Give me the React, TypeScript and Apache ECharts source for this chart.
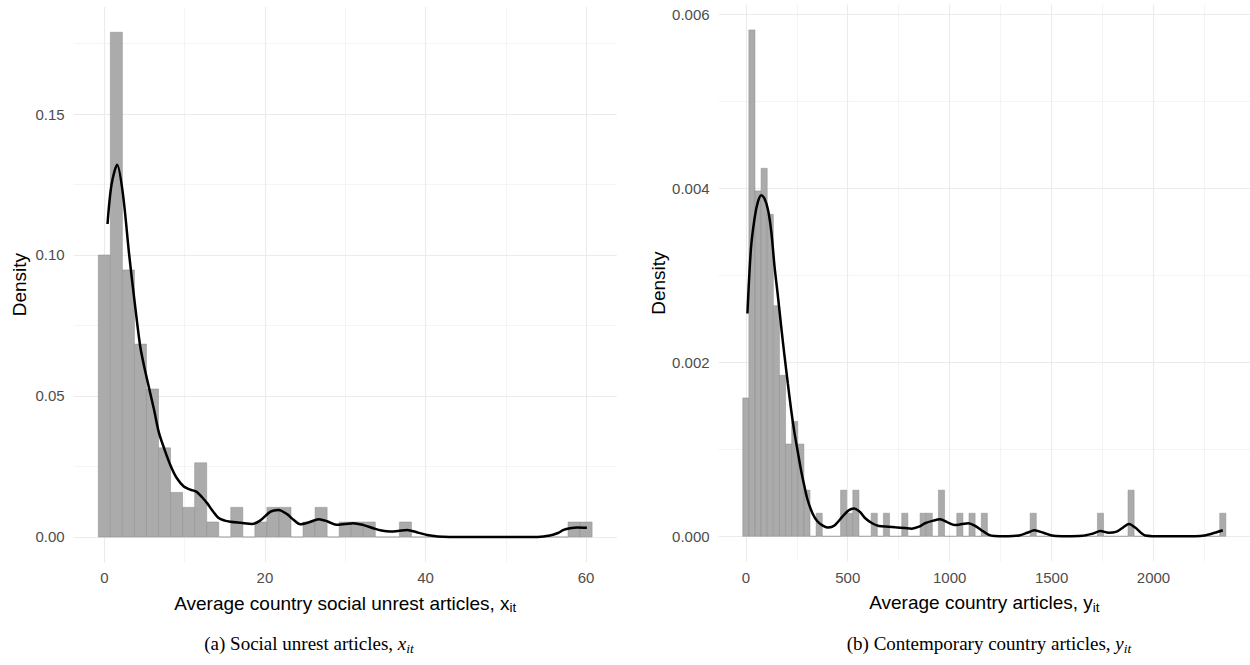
import React, { useEffect, useRef } from "react";
import * as echarts from "echarts";

// ---------- Left panel: social unrest articles (x_it) ----------
const leftBinWidth = 1.5;
const leftBinMid = [
  0, 1.5, 3, 4.5, 6, 7.5, 9, 10.5, 12, 13.5, 15, 16.5, 18, 19.5, 21, 22.5, 24, 25.5, 27, 28.5,
  30, 31.5, 33, 34.5, 36, 37.5, 39, 40.5, 42, 43.5, 45, 46.5, 48, 49.5, 51, 52.5, 54, 55.5, 57,
  58.5, 60,
];
const leftBinDensity = [
  0.1, 0.179, 0.0947, 0.0684, 0.0525, 0.0316, 0.0158, 0.0105, 0.0263, 0.0053, 0, 0.0105, 0,
  0.0053, 0.0105, 0.0105, 0, 0.0053, 0.0105, 0, 0.0053, 0.0053, 0.0053, 0, 0, 0.0053, 0, 0, 0,
  0, 0, 0, 0, 0, 0, 0, 0, 0, 0, 0.0053, 0.0053,
];
const leftCurveX = [
  0.4, 0.9, 1.6, 2.3, 3.1, 3.75, 4.45, 5.0, 5.6, 6.2, 6.8, 7.5, 8.3, 9.0, 9.9, 10.7, 11.5, 12.2,
  12.8, 13.5, 14.2, 15.0, 15.7, 17.0, 18.4, 19.4, 20.7, 21.7, 22.8, 23.6, 24.4, 25.5, 26.7, 27.8,
  28.9, 30.0, 31.0, 32.3, 33.5, 34.5, 35.6, 36.6, 37.7, 39.0, 40.2, 41.5, 43.0, 46.0, 50.0, 54.0,
  55.5, 56.5, 57.2, 58.0, 58.9, 60.1,
];
const leftCurveY = [
  0.111, 0.125, 0.132, 0.122, 0.1, 0.084, 0.068, 0.06, 0.0525, 0.045, 0.037, 0.031, 0.025, 0.021,
  0.0179, 0.0168, 0.016, 0.014, 0.012, 0.0092, 0.0068, 0.0058, 0.0054, 0.005, 0.0046, 0.0058,
  0.009, 0.0096, 0.008, 0.006, 0.0045, 0.0052, 0.0063, 0.0055, 0.0043, 0.0046, 0.0049, 0.0042,
  0.0031, 0.0023, 0.0019, 0.0021, 0.0025, 0.0016, 0.0007, 0.0002, 0.00003, 0, 0, 0, 0.0005,
  0.0014, 0.0025, 0.0031, 0.0034, 0.0033,
];
const leftXTicks = [0, 20, 40, 60];
const leftXMinor = [10, 30, 50];
const leftYTicks = [0, 0.05, 0.1, 0.15];
const leftYMinor = [0.025, 0.075, 0.125, 0.175];

// ---------- Right panel: contemporary country articles (y_it) ----------
const rightBinWidth = 30;
const rightBinMid = [
  0, 30, 60, 90, 120, 150, 180, 210, 240, 270, 300, 330, 360, 390, 420, 450, 480, 510, 540, 570,
  600, 630, 660, 690, 720, 750, 780, 810, 840, 870, 900, 930, 960, 990, 1020, 1050, 1080, 1110,
  1140, 1170, 1200, 1230, 1260, 1290, 1320, 1350, 1380, 1410, 1440, 1470, 1500, 1530, 1560,
  1590, 1620, 1650, 1680, 1710, 1740, 1770, 1800, 1830, 1860, 1890, 1920, 1950, 1980, 2010,
  2040, 2070, 2100, 2130, 2160, 2190, 2220, 2250, 2280, 2310, 2340,
];
const rightBinDensity = [
  0.00159, 0.00582, 0.00397, 0.00423, 0.0037, 0.00265, 0.00185, 0.00106, 0.00132, 0.00106,
  0.00053, 0, 0.000265, 0, 0, 0, 0.00053, 0.000265, 0.00053, 0, 0, 0.000265, 0, 0.000265, 0, 0,
  0.000265, 0, 0, 0.000265, 0.000265, 0, 0.00053, 0, 0, 0.000265, 0, 0.000265, 0, 0.000265, 0,
  0, 0, 0, 0, 0, 0, 0.000265, 0, 0, 0, 0, 0, 0, 0, 0, 0, 0, 0.000265, 0, 0, 0, 0, 0.00053, 0, 0,
  0, 0, 0, 0, 0, 0, 0, 0, 0, 0, 0, 0, 0.000265,
];
const rightCurveX = [
  8, 25, 44, 60, 76, 92, 109, 125, 141, 158, 174, 190, 206, 222, 238, 255, 271, 287, 303, 328,
  352, 380, 405, 433, 474, 505, 531, 560, 586, 620, 653, 700, 733, 780, 814, 850, 879, 920, 953,
  990, 1025, 1060, 1091, 1125, 1156, 1190, 1220, 1285, 1340, 1380, 1416, 1460, 1510, 1571,
  1650, 1700, 1740, 1780, 1815, 1850, 1880, 1910, 1959, 2050, 2150, 2250, 2300, 2340,
];
const rightCurveY = [
  0.00256, 0.0033, 0.00367, 0.00385, 0.00392, 0.00388, 0.00375, 0.0035, 0.0031, 0.00275, 0.0024,
  0.00207, 0.00176, 0.00146, 0.0012, 0.00097, 0.00076, 0.00058, 0.00042, 0.00026, 0.00017,
  0.00012, 0.0001, 0.00012, 0.000226, 0.0003, 0.00032, 0.00028, 0.000207, 0.00015, 0.000118,
  0.00011, 0.000103, 0.000095, 0.000088, 0.00011, 0.00015, 0.00018, 0.000195, 0.00016, 0.00013,
  0.00014, 0.00015, 0.00012, 0.00007, 0.00002, 0.000003, 0, 0.00001, 0.00004, 0.00007, 0.00004,
  0.000005, 0, 0.000005, 0.00003, 0.00006, 0.00004, 0.00005, 0.0001, 0.00014, 0.0001, 0.00001,
  0, 0, 0.00001, 0.00004, 0.00007,
];
const rightXTicks = [0, 500, 1000, 1500, 2000];
const rightXMinor = [250, 750, 1250, 1750, 2250];
const rightYTicks = [0, 0.002, 0.004, 0.006];
const rightYMinor = [0.001, 0.003, 0.005];

const SANS = "'Liberation Sans', Arial, Helvetica, sans-serif";
const SERIF = "'Liberation Serif', 'Times New Roman', serif";
const TICK = "#4D4D4D";
const GRID = "#EBEBEB";
const TITLE_SIZE = 19;

function histSeries(xi: number, mids: number[], dens: number[], w: number) {
  return {
    type: "custom",
    xAxisIndex: xi,
    yAxisIndex: xi,
    z: 3,
    silent: true,
    data: mids.map((m, i) => [m, dens[i]]),
    encode: { x: 0, y: 1 },
    renderItem: (params: any, api: any) => {
      const mid = api.value(0);
      const d = api.value(1);
      const p0 = api.coord([mid - w / 2, 0]);
      const p1 = api.coord([mid + w / 2, d]);
      return {
        type: "rect",
        shape: { x: p0[0], y: p1[1], width: p1[0] - p0[0], height: Math.max(p0[1] - p1[1], 0.01) },
        style: { fill: "#ABABAB", stroke: "#8C8C8C", lineWidth: 0.5 },
      };
    },
  };
}

function xAxes(grid: number, min: number, max: number, major: number[], minor: number[], name: string) {
  return [
    {
      type: "value",
      gridIndex: grid,
      min,
      max,
      axisLine: { show: false },
      axisTick: { show: false, customValues: major },
      axisLabel: {
        customValues: major,
        color: TICK,
        fontSize: 15,
        fontFamily: SANS,
        margin: 8,
        formatter: (v: number) => String(v),
      },
      splitLine: { show: true, lineStyle: { color: GRID, width: 1.1 } },
      name,
      nameLocation: "middle",
      nameGap: 30,
      nameTextStyle: {
        rich: {
          n: { fontSize: TITLE_SIZE, fontFamily: SANS, color: "#000", lineHeight: 22 },
          s: { fontSize: 13.3, fontFamily: SANS, color: "#000", lineHeight: 11, verticalAlign: "bottom" },
        },
      },
    },
    {
      type: "value",
      gridIndex: grid,
      min,
      max,
      axisLine: { show: false },
      axisTick: { show: false, customValues: minor },
      axisLabel: { show: false },
      splitLine: { show: true, lineStyle: { color: GRID, width: 0.55 } },
    },
  ];
}

function yAxes(
  grid: number,
  min: number,
  max: number,
  major: number[],
  minor: number[],
  digits: number,
  gap: number
) {
  return [
    {
      type: "value",
      gridIndex: grid,
      min,
      max,
      axisLine: { show: false },
      axisTick: { show: false, customValues: major },
      axisLabel: {
        customValues: major,
        color: TICK,
        fontSize: 15,
        fontFamily: SANS,
        margin: 9,
        formatter: (v: number) => v.toFixed(digits),
      },
      splitLine: { show: true, lineStyle: { color: GRID, width: 1.1 } },
      name: "Density",
      nameLocation: "middle",
      nameGap: gap,
      nameTextStyle: { fontSize: TITLE_SIZE, fontFamily: SANS, color: "#000" },
    },
    {
      type: "value",
      gridIndex: grid,
      min,
      max,
      axisLine: { show: false },
      axisTick: { show: false, customValues: minor },
      axisLabel: { show: false },
      splitLine: { show: true, lineStyle: { color: GRID, width: 0.55 } },
    },
  ];
}

export default function App() {
  const ref = useRef<HTMLDivElement>(null);
  useEffect(() => {
    if (!ref.current) return;
    const chart = echarts.init(ref.current, undefined, { renderer: "svg" });
    const xa = [
      ...xAxes(0, -3.825, 63.825, leftXTicks, leftXMinor, "{n|Average country social unrest articles, x}{s|it}"),
      ...xAxes(1, -133.5, 2473.5, rightXTicks, rightXMinor, "{n|Average country articles, y}{s|it}"),
    ];
    const ya = [
      ...yAxes(0, -0.00895, 0.18795, leftYTicks, leftYMinor, 2, 45),
      ...yAxes(1, -0.000291, 0.006111, rightYTicks, rightYMinor, 3, 49),
    ];
    const captionRich = {
      n: { fontFamily: SERIF, fontSize: 19, fill: "#000", lineHeight: 24 },
      i: { fontFamily: SERIF, fontSize: 19, fontStyle: "italic", fill: "#000", lineHeight: 24 },
      s: { fontFamily: SERIF, fontSize: 13.5, fontStyle: "italic", fill: "#000", lineHeight: 12, verticalAlign: "bottom" },
    };
    const option: any = {
      animation: false,
      backgroundColor: "#fff",
      grid: [
        { left: 73.6, top: 7, width: 543.2, height: 555.2, containLabel: false },
        { left: 718.6, top: 4.6, width: 535.2, height: 557, containLabel: false },
      ],
      xAxis: xa,
      yAxis: ya,
      series: [
        histSeries(0, leftBinMid, leftBinDensity, leftBinWidth),
        {
          type: "line",
          xAxisIndex: 0,
          yAxisIndex: 0,
          z: 4,
          silent: true,
          showSymbol: false,
          smooth: 0.3,
          data: leftCurveX.map((x, i) => [x, leftCurveY[i]]),
          lineStyle: { color: "#000", width: 2.5 },
        },
        histSeries(2, rightBinMid, rightBinDensity, rightBinWidth),
        {
          type: "line",
          xAxisIndex: 2,
          yAxisIndex: 2,
          z: 4,
          silent: true,
          showSymbol: false,
          smooth: 0.3,
          data: rightCurveX.map((x, i) => [x, rightCurveY[i]]),
          lineStyle: { color: "#000", width: 2.5 },
        },
      ],
      graphic: [
        {
          type: "text",
          x: 309,
          y: 643,
          style: {
            text: "{n|(a) Social unrest articles, }{i|x}{s|it}",
            textAlign: "center",
            textVerticalAlign: "middle",
            rich: captionRich,
          },
        },
        {
          type: "text",
          x: 989,
          y: 643,
          style: {
            text: "{n|(b) Contemporary country articles, }{i|y}{s|it}",
            textAlign: "center",
            textVerticalAlign: "middle",
            rich: captionRich,
          },
        },
      ],
    };
    chart.setOption(option);
    return () => chart.dispose();
  }, []);
  return (
    <div
      ref={ref}
      style={{ position: "absolute", left: 0, top: 0, width: 1250, height: 665, background: "#fff" }}
    />
  );
}
